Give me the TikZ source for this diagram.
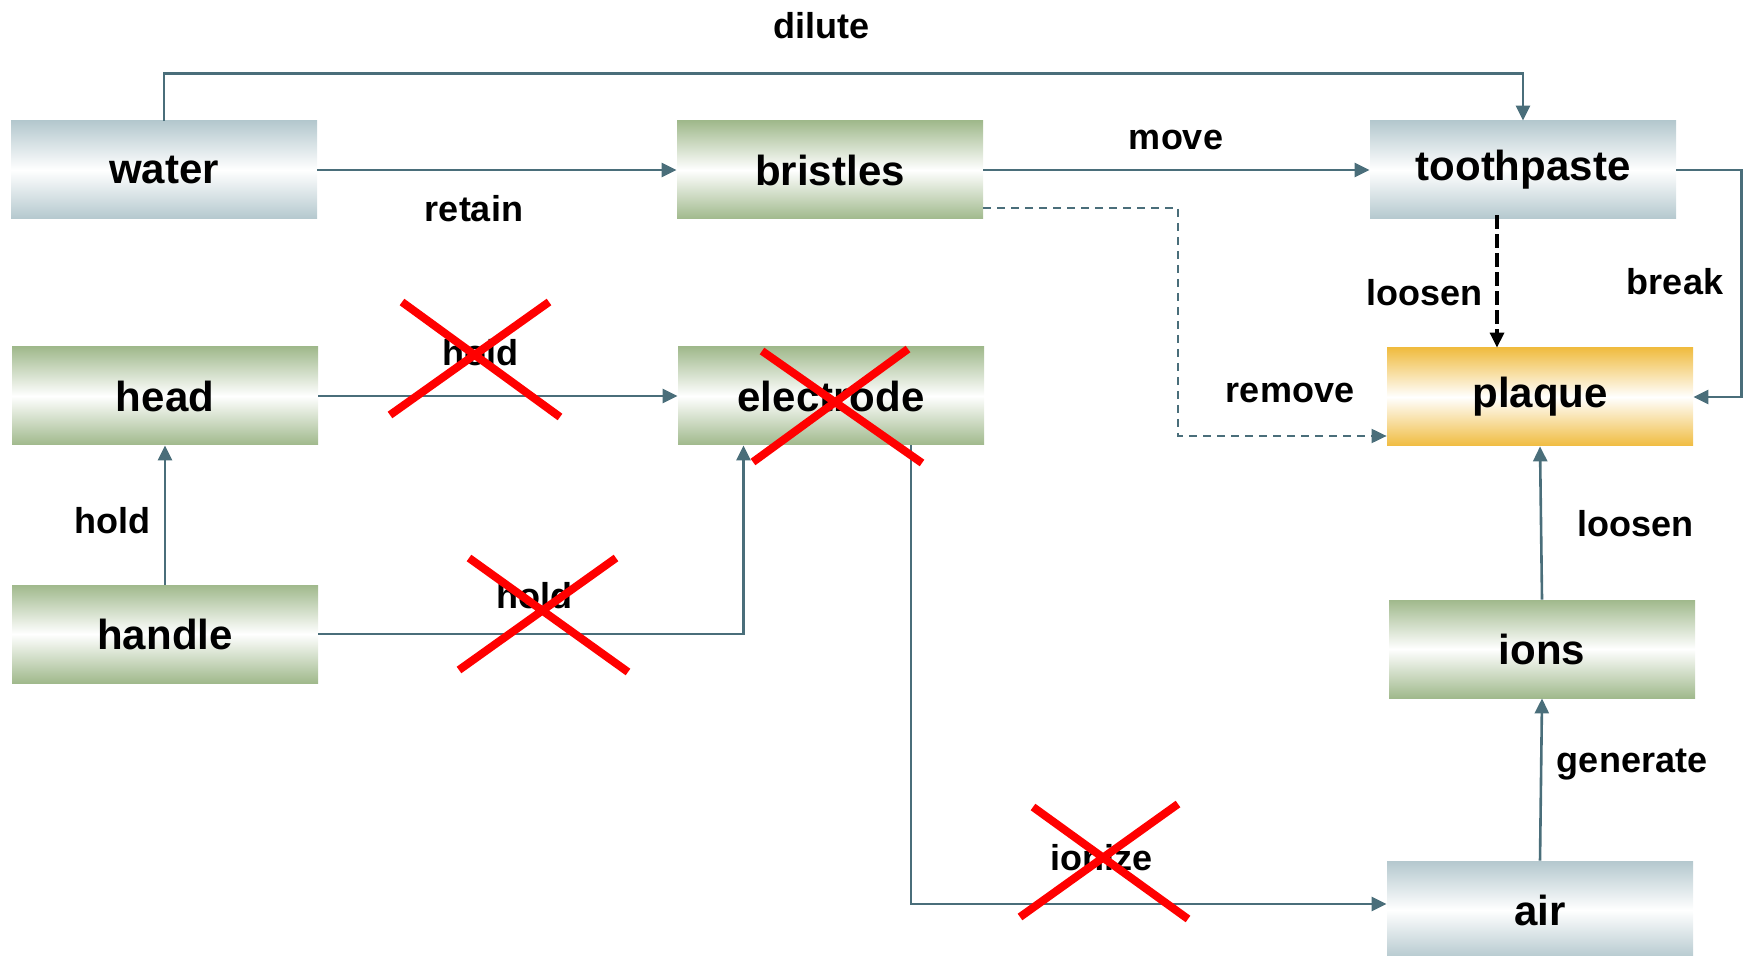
\documentclass[tikz,border=0pt]{standalone}
\usepackage{fontspec}
\setmainfont{Liberation Sans}
\usetikzlibrary{arrows.meta}
\definecolor{Steel}{HTML}{B4C8CE}
\definecolor{Sage}{HTML}{A0B98C}
\definecolor{Amber}{HTML}{F0BC40}
\definecolor{Link}{HTML}{4A6E7A}
\definecolor{Strike}{HTML}{FF0000}

\begin{document}
\begin{tikzpicture}[x=0.5pt,y=-0.5pt,>={Triangle[length=7.5pt,width=7pt]},
  box/.style={minimum width=153pt,minimum height=49pt,inner sep=0pt,
    font=\fontsize{21}{25}\selectfont\bfseries},
  steelbox/.style={box,top color=Steel,bottom color=Steel,middle color=white},
  sagebox/.style={box,top color=Sage,bottom color=Sage,middle color=white},
  amberbox/.style={box,top color=Amber,bottom color=Amber,middle color=white},
  link/.style={Link,line width=1.3pt,->},
  lbl/.style={font=\fontsize{18}{22}\selectfont\bfseries},
  strike/.style={Strike,line width=4pt}]
  \useasboundingbox (0,0) rectangle (1754,956);

  % Components.
  \node[steelbox] (water) at (164,170) {water};
  \node[sagebox] (bristles) at (830,170) {bristles};
  \node[steelbox] (toothpaste) at (1523,170) {toothpaste};
  \node[sagebox] (head) at (165,396) {head};
  \node[sagebox] (electrode) at (831,396) {electrode};
  \node[amberbox] (plaque) at (1540,397) {plaque};
  \node[sagebox] (handle) at (165,634) {handle};
  \node[sagebox] (ions) at (1542,649) {ions};
  \node[steelbox] (air) at (1540,910) {air};

  % Functions between components.
  \draw[link] (water.east) -- (bristles.west);
  \draw[link] (bristles.east) -- (toothpaste.west);
  \draw[link] (water.north) -- ++(0,-47) -| (toothpaste.north);
  \draw[link] (toothpaste.east) -- ++(65,0) |- (plaque.east);
  \draw[->,line width=1.6pt,dash pattern=on 7pt off 2.5pt]
    ([xshift=-13pt,yshift=2pt]toothpaste.south) -- ([xshift=-13pt]toothpaste.south |- plaque.north);
  \draw[Link,->,line width=1pt,dash pattern=on 4pt off 3pt]
    ([yshift=-19pt]bristles.east) -- ++(195,0) |- ([yshift=-19.5pt]plaque.west);
  \draw[link] (head.east) -- (electrode.west);
  \draw[link] (handle.north) -- (head.south);
  \draw[link] (handle.east) -| ([xshift=-43.75pt]electrode.south);
  \draw[link] ([xshift=40pt]electrode.south) |- ([yshift=3pt]air.west);
  \draw[link] (air.north) -- (ions.south);
  \draw[link] (ions.north) -- (plaque.south);

  % Labels.
  \node[lbl] (dilute) at (821,26) {dilute};
  \node[lbl] (retain) at (474,209) {retain};
  \node[lbl] (move) at (1176,140) {move};
  \node[lbl] (loosen1) at (1424,293) {loosen};
  \node[lbl] (break) at (1675,282) {break};
  \node[lbl] (remove) at (1290,393) {remove};
  \node[lbl] (hold1) at (480,353) {hold};
  \node[lbl] (hold2) at (112,521) {hold};
  \node[lbl] (hold3) at (534,596) {hold};
  \node[lbl] (loosen2) at (1635,524) {loosen};
  \node[lbl] (generate) at (1632,765) {generate};
  \node[lbl] (ionize) at (1101,858) {ionize};

  % Struck-out functions.
  \draw[strike] (402,302) -- (560,417) (390,415) -- (549,302);
  \draw[strike] (762,351) -- (922,463) (908,349) -- (753,462);
  \draw[strike] (469,558) -- (628,672) (459,670) -- (616,558);
  \draw[strike] (1033,807) -- (1188,919) (1178,804) -- (1020,917);
\end{tikzpicture}
\end{document}
